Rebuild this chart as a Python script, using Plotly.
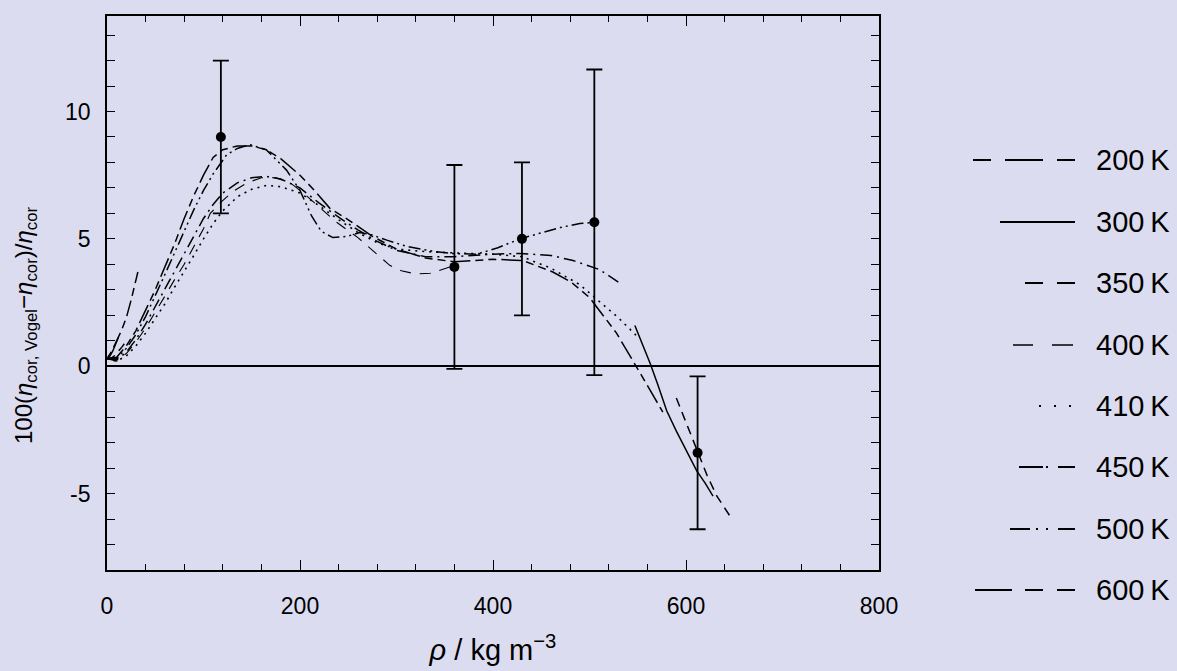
import plotly.graph_objects as go

# ---------------- data ----------------
labels = ["200 K", "300 K", "350 K", "400 K", "410 K", "450 K", "500 K", "600 K"]

rho_200 = [0, 5, 10, 15, 20, 25, 32]
dev_200 = [0.3, 0.6, 1.0, 1.4, 1.9, 2.6, 3.7]

rho_300 = [0, 3, 6, 9, 12, None, 547, 555, 563, 571, 580, 590, 600, 611, 620, 628]
dev_300 = [0.3, 0.4, 0.6, 0.85, 1.15, None, 1.6, 0.85, 0.1, -0.75, -1.75, -2.55, -3.3, -4.1, -4.6, -5.1]

rho_350 = [0, 4, 8, 12, 16, 20, None, 590, 600, 612, 622, 632, 645]
dev_350 = [0.3, 0.3, 0.42, 0.58, 0.78, 1.0, None, -1.25, -2.2, -3.4, -4.3, -5.1, -5.85]

rho_400 = [0, 10, 20, 30, 40, 50, 60, 70, 80, 90, 100, 107, 117, 130, 145, 160, 175, 190, 205, 220,
           238, 260, 272, 280, 293, 305, 320, 335, 350, 360]
dev_400 = [0.3, 0.2, 0.5, 0.95, 1.5, 2.1, 2.75, 3.4, 4.0, 4.7, 5.4, 6.0, 6.4, 6.85, 7.2, 7.4, 7.4, 7.2,
           6.75, 6.25, 5.65, 5.05, 4.65, 4.4, 3.96, 3.75, 3.62, 3.65, 3.82, 3.95]

rho_410 = [0, 10, 20, 30, 40, 50, 60, 70, 80, 90, 100, 110, 120, 135, 150, 165, 180, 200, 220, 240,
           260, 280, 300, 330, 360, 400, 430, 460, 490, 509, 530, 550]
dev_410 = [0.3, 0.2, 0.4, 0.8, 1.3, 1.85, 2.45, 3.1, 3.7, 4.35, 5.0, 5.6, 6.1, 6.65, 6.95, 7.1, 7.05,
           6.8, 6.3, 5.75, 5.25, 4.85, 4.6, 4.5, 4.45, 4.4, 4.3, 3.85, 3.2, 2.6, 1.9, 1.15]

rho_450 = [0, 10, 20, 30, 40, 50, 60, 70, 80, 90, 100, 110, 120, 135, 150, 165, 180, 200, 220, 240,
           260, 280, 300, 330, 360, 400, 428, 460, 483, 510, 532]
dev_450 = [0.3, 0.25, 0.55, 1.05, 1.65, 2.35, 3.05, 3.75, 4.45, 5.15, 5.8, 6.35, 6.8, 7.2, 7.4, 7.45,
           7.35, 7.0, 6.4, 5.85, 5.35, 4.9, 4.55, 4.3, 4.3, 4.4, 4.43, 4.35, 4.15, 3.8, 3.25]

rho_500 = [0, 10, 20, 30, 40, 50, 60, 70, 80, 90, 100, 110, 124, 135, 148, 165, 186, 200, 212, 222,
           234, 249, 262, 275, 290, 311, 340, 360, 383, 405, 428, 450, 470, 490, 505]
dev_500 = [0.3, 0.3, 0.7, 1.25, 1.95, 2.75, 3.6, 4.45, 5.3, 6.15, 6.9, 7.55, 8.3, 8.55, 8.7, 8.5, 7.7,
           6.9, 5.9, 5.3, 5.05, 5.1, 5.25, 5.15, 4.95, 4.7, 4.5, 4.42, 4.4, 4.65, 5.0, 5.25, 5.45, 5.6, 5.65]

rho_600 = [0, 10, 20, 30, 40, 50, 60, 70, 80, 90, 100, 110, 120, 135, 150, 165, 180, 200, 215, 231,
           252, 275, 300, 330, 360, 400, 431, 462, 481, 500, 515, 528, 552, 576]
dev_600 = [0.3, 0.35, 0.8, 1.4, 2.2, 3.0, 3.9, 4.8, 5.8, 6.7, 7.5, 8.2, 8.5, 8.65, 8.65, 8.5, 8.15,
           7.5, 6.9, 6.2, 5.7, 5.1, 4.6, 4.25, 4.1, 4.2, 4.15, 3.7, 3.3, 2.7, 1.95, 1.3, -0.24, -1.8]

exp_rho = [118, 360, 430, 505, 612]
exp_dev = [9.0, 3.9, 5.0, 5.65, -3.4]
exp_err = [3.0, 4.0, 3.0, 6.0, 3.0]

x_ticks = [0, 200, 400, 600, 800]
y_ticks = [-5, 0, 5, 10]
y_tick_text = ["-5", "0", "5", "10"]

y_title = "100(<i>η</i><sub>cor, Vogel</sub>−<i>η</i><sub>cor</sub>)/<i>η</i><sub>cor</sub>"
x_title = "<i>ρ</i> / kg m<sup>−3</sup>"

# ---------------- styles ----------------
series_x = [rho_200, rho_300, rho_350, rho_400, rho_410, rho_450, rho_500, rho_600]
series_y = [dev_200, dev_300, dev_350, dev_400, dev_410, dev_450, dev_500, dev_600]
dashes = ["8px,5px,16px,5px", "solid", "9px,6px", "11px,9px", "2px,5px",
          "12px,5px,2px,5px", "12px,4px,2px,4px,2px,4px", "20px,5px,8px,5px,8px,5px"]
widths = [1.5, 1.5, 1.5, 1.1, 1.6, 1.5, 1.5, 1.5]

# legend sample styles (pixel geometry of the reference legend)
leg_dash = ["18px,14px,38px,14px,18px,200px", "solid", "18px,14px,18px,200px", "20px,19px,21px,200px",
            "2px,13px", "24px,3px,2px,10px,18px,200px", "20px,6px,2px,8px,2px,10px,17px,200px",
            "37px,13px,18px,14px,18px,200px"]
leg_x0 = [973, 1000, 1025, 1013, 1039, 1019, 1010, 975]
leg_x1 = 1075
leg_y = [160, 222, 283, 345, 406, 467, 529, 590]

BG = "#DCDCF0"
FONT = "Liberation Sans, Arial, sans-serif"

L, R, T, B = 107, 879, 16, 570
W, H = 1177, 671


def px2paper_x(px):
    return (px - L) / (R - L)


def px2paper_y(py):
    return (B - py) / (B - T)


fig = go.Figure()

for xs, ys, d, w, lab in zip(series_x, series_y, dashes, widths, labels):
    fig.add_trace(go.Scatter(x=xs, y=ys, mode="lines", name=lab,
                             line=dict(color="black", width=w, dash=d),
                             connectgaps=False, showlegend=False))

fig.add_trace(go.Scatter(x=exp_rho, y=exp_dev, mode="markers", name="exp",
                         marker=dict(color="black", size=10),
                         error_y=dict(type="data", array=exp_err, color="black",
                                      thickness=1.8, width=8),
                         showlegend=False))

shapes = []
annotations = []
for lab, d, x0, y, w in zip(labels, leg_dash, leg_x0, leg_y, widths):
    shapes.append(dict(type="line", xref="paper", yref="paper",
                       x0=px2paper_x(x0), x1=px2paper_x(leg_x1),
                       y0=px2paper_y(y), y1=px2paper_y(y),
                       line=dict(color="black", width=w + 0.3, dash=d)))
    annotations.append(dict(xref="paper", yref="paper", x=px2paper_x(1094), y=px2paper_y(y),
                            xanchor="left", yanchor="middle", showarrow=False,
                            text=lab.replace(" ", "\u2009"),
                            font=dict(family=FONT, size=29, color="black")))

# y-axis title placed as a rotated annotation for exact positioning
annotations.append(dict(xref="paper", yref="paper", x=px2paper_x(25), y=px2paper_y(326),
                        xanchor="center", yanchor="middle", showarrow=False, textangle=-90,
                        text=y_title, font=dict(family=FONT, size=24, color="black")))

axis_common = dict(showline=True, linecolor="black", linewidth=1.8, mirror="allticks",
                   ticks="inside", tickcolor="black", tickwidth=1.3, showgrid=False,
                   automargin=False,
                   tickfont=dict(family=FONT, size=23, color="black"))

fig.update_layout(
    width=W, height=H,
    margin=dict(l=L, r=W - R, t=T, b=H - B, pad=0, autoexpand=False),
    paper_bgcolor=BG, plot_bgcolor=BG,
    showlegend=False,
    shapes=shapes, annotations=annotations,
    xaxis=dict(range=[0, 800], tickvals=x_ticks, ticklen=10,
               minor=dict(dtick=40, ticks="inside", ticklen=6, tickcolor="black", tickwidth=1.1),
               zeroline=False, ticklabelstandoff=14,
               title=dict(text=x_title, standoff=22,
                          font=dict(family=FONT, size=29, color="black")),
               **axis_common),
    yaxis=dict(range=[-8, 13.75], tickvals=y_ticks, ticktext=y_tick_text, ticklen=8,
               minor=dict(dtick=1, ticks="inside", ticklen=8, tickcolor="black", tickwidth=1.1),
               zeroline=True, zerolinecolor="black", zerolinewidth=1.6, ticklabelstandoff=10,
               **axis_common),
)

fig.write_html("out.html")
